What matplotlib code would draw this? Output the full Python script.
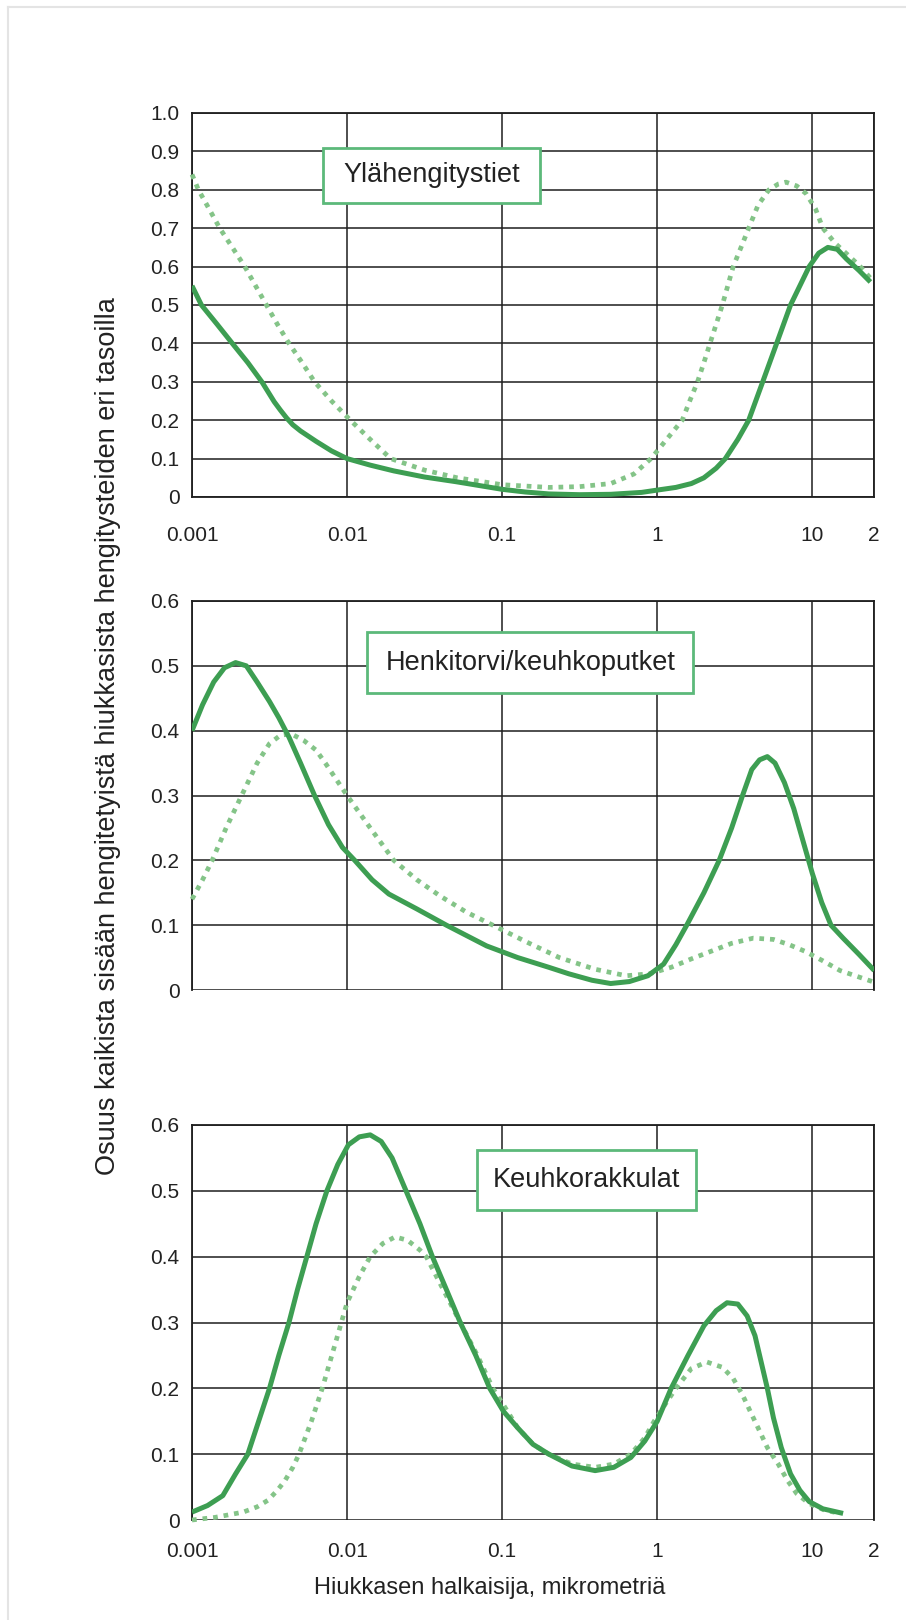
import matplotlib
matplotlib.use("Agg")
import matplotlib.pyplot as plt
from matplotlib.patches import Rectangle
from matplotlib.lines import Line2D

# ---------------- data (particle diameter in micrometres, deposited fraction) ----------------
x_labels = ["0.001", "0.01", "0.1", "1", "10", "2"]
x_ticks = [0.001, 0.01, 0.1, 1, 10, 25]

titles = ["Ylähengitystiet", "Henkitorvi/keuhkoputket", "Keuhkorakkulat"]

# Panel 1: upper airways
p1_solid_x = [0.001, 0.00115, 0.00145, 0.00182, 0.00229, 0.00282, 0.00339, 0.00372, 0.00407,
              0.00447, 0.00501, 0.00631, 0.00794, 0.01, 0.0141, 0.02, 0.0316, 0.0501, 0.0708,
              0.1, 0.141, 0.2, 0.316, 0.501, 0.794, 1.0, 1.32, 1.66, 2.0, 2.4, 2.75, 3.31,
              3.89, 4.79, 5.89, 7.24, 9.55, 11.0, 12.6, 14.5, 16.6, 20.0, 23.7]
p1_solid_y = [0.55, 0.50, 0.45, 0.40, 0.35, 0.30, 0.248, 0.226, 0.206,
              0.188, 0.172, 0.145, 0.12, 0.10, 0.083, 0.068, 0.052, 0.04, 0.03,
              0.02, 0.013, 0.008, 0.006, 0.007, 0.012, 0.018, 0.025, 0.035, 0.05, 0.075, 0.10, 0.15,
              0.20, 0.30, 0.40, 0.50, 0.60, 0.635, 0.65, 0.645, 0.62, 0.59, 0.56]
p1_dot_x = [0.001, 0.0011, 0.00129, 0.00151, 0.00182, 0.00219, 0.00257, 0.00302, 0.00355,
            0.00422, 0.00513, 0.00617, 0.00794, 0.0105, 0.0141, 0.0191, 0.0316, 0.0513, 0.1,
            0.2, 0.316, 0.501, 0.708, 0.912, 1.15, 1.45, 1.62, 1.82, 2.0, 2.19, 2.4, 2.63,
            2.85, 3.09, 3.47, 3.89, 4.47, 5.25, 6.03, 6.76, 7.94, 9.12, 10.5, 11.7, 14.1,
            17.0, 20.4, 23.7]
p1_dot_y = [0.84, 0.80, 0.75, 0.70, 0.65, 0.60, 0.55, 0.50, 0.45,
            0.40, 0.35, 0.30, 0.25, 0.20, 0.15, 0.10, 0.07, 0.05, 0.032,
            0.025, 0.027, 0.035, 0.06, 0.10, 0.15, 0.20, 0.25, 0.30, 0.35, 0.40, 0.45, 0.50,
            0.55, 0.60, 0.65, 0.70, 0.76, 0.80, 0.815, 0.82, 0.81, 0.79, 0.75, 0.70, 0.66,
            0.63, 0.60, 0.57]

# Panel 2: trachea / bronchi
p2_solid_x = [0.001, 0.00117, 0.00138, 0.00162, 0.00191, 0.00224, 0.00263, 0.00316, 0.00363,
              0.00422, 0.00501, 0.00617, 0.00759, 0.00933, 0.0112, 0.0145, 0.0186, 0.0282,
              0.0437, 0.0794, 0.126, 0.2, 0.269, 0.38, 0.501, 0.661, 0.871, 1.10, 1.32, 1.55,
              2.0, 2.51, 3.02, 3.55, 4.07, 4.57, 5.13, 5.75, 6.61, 7.59, 8.71, 10, 11.5, 13.2,
              15.8, 20.0, 25.1]
p2_solid_y = [0.40, 0.44, 0.475, 0.497, 0.505, 0.50, 0.475, 0.445, 0.42,
              0.39, 0.35, 0.30, 0.255, 0.22, 0.20, 0.17, 0.148, 0.125,
              0.10, 0.068, 0.05, 0.035, 0.025, 0.015, 0.01, 0.013, 0.022, 0.04, 0.07, 0.10,
              0.15, 0.20, 0.25, 0.30, 0.34, 0.355, 0.36, 0.35, 0.32, 0.28, 0.23, 0.18, 0.135, 0.10,
              0.08, 0.055, 0.03]
p2_dot_x = [0.001, 0.00117, 0.00135, 0.00166, 0.00209, 0.00263, 0.00316, 0.00372, 0.00437,
            0.00525, 0.00631, 0.00724, 0.00851, 0.01, 0.0141, 0.02, 0.0282, 0.0398, 0.0589,
            0.0871, 0.141, 0.234, 0.398, 0.631, 0.891, 1.23, 1.66, 2.24, 3.02, 4.17, 5.62,
            7.08, 8.91, 11.7, 15.1, 20.0, 25.1]
p2_dot_y = [0.14, 0.17, 0.20, 0.25, 0.30, 0.35, 0.38, 0.393, 0.395,
            0.385, 0.37, 0.35, 0.325, 0.30, 0.25, 0.20, 0.17, 0.145, 0.12,
            0.10, 0.075, 0.05, 0.032, 0.022, 0.025, 0.035, 0.048, 0.06, 0.072, 0.08, 0.078,
            0.07, 0.06, 0.045, 0.03, 0.02, 0.012]

# Panel 3: alveoli
p3_solid_x = [0.001, 0.00126, 0.00158, 0.00191, 0.00229, 0.00269, 0.00316, 0.00363, 0.00422,
              0.00479, 0.0055, 0.00631, 0.00741, 0.00871, 0.0102, 0.012, 0.0141, 0.0166,
              0.0195, 0.024, 0.0295, 0.0355, 0.0437, 0.0537, 0.0676, 0.0832, 0.102, 0.126,
              0.158, 0.2, 0.282, 0.398, 0.525, 0.676, 0.832, 1.0, 1.23, 1.58, 2.0, 2.4, 2.82,
              3.31, 3.8, 4.27, 4.68, 5.13, 5.62, 6.31, 7.24, 8.32, 9.55, 11.7, 15.8]
p3_solid_y = [0.012, 0.022, 0.037, 0.07, 0.10, 0.15, 0.20, 0.25, 0.30,
              0.35, 0.40, 0.45, 0.50, 0.54, 0.57, 0.582, 0.585, 0.575,
              0.55, 0.50, 0.45, 0.40, 0.35, 0.30, 0.25, 0.20, 0.165, 0.14,
              0.115, 0.10, 0.082, 0.075, 0.08, 0.095, 0.12, 0.15, 0.20, 0.25, 0.295, 0.318, 0.33,
              0.328, 0.31, 0.28, 0.24, 0.20, 0.155, 0.11, 0.07, 0.045, 0.028, 0.017, 0.01]
p3_dot_x = [0.001, 0.00141, 0.00214, 0.00263, 0.00309, 0.00355, 0.00398, 0.00447, 0.0049,
            0.00589, 0.00692, 0.00832, 0.01, 0.012, 0.0141, 0.017, 0.0204, 0.0245, 0.0295,
            0.0324, 0.0417, 0.0537, 0.0692, 0.0871, 0.105, 0.126, 0.158, 0.2, 0.282, 0.398,
            0.525, 0.676, 0.832, 0.955, 1.12, 1.32, 1.66, 2.09, 2.63, 3.09, 3.55, 3.98, 4.47,
            5.13, 6.03, 6.92, 7.94, 9.55, 12.0, 15.1]
p3_dot_y = [0.0, 0.004, 0.012, 0.02, 0.03, 0.045, 0.06, 0.08, 0.10,
            0.15, 0.20, 0.265, 0.33, 0.37, 0.40, 0.42, 0.43, 0.425, 0.41,
            0.40, 0.35, 0.30, 0.25, 0.20, 0.17, 0.14, 0.115, 0.10, 0.085, 0.08,
            0.085, 0.10, 0.125, 0.15, 0.175, 0.20, 0.23, 0.24, 0.232, 0.215, 0.19, 0.165, 0.14,
            0.11, 0.085, 0.06, 0.04, 0.025, 0.015, 0.01]

ylabel_text = "Osuus kaikista sisään hengitetyistä hiukkasista hengitysteiden eri tasoilla"
xlabel_text = "Hiukkasen halkaisija, mikrometriä"

# ---------------- style ----------------
SOLID = "#3d9e52"
DOT = "#84c488"
BOXEDGE = "#5cb97a"
GRID = "#1e1e1e"
TICKFONT = ["Liberation Sans", "DejaVu Sans"]
TEXTFONT = ["Liberation Sans", "DejaVu Sans"]

W, H = 906, 1620
fig = plt.figure(figsize=(W / 100, H / 100), dpi=100)
fig.patch.set_facecolor("white")

def fx(px):
    return px / W

def fy(py):
    return 1 - py / H

left, right = 192, 874
panels = [
    dict(top=113, bottom=497, ymax=1.0, yt=[i / 10 for i in range(11)],
         sx=p1_solid_x, sy=p1_solid_y, dx=p1_dot_x, dy=p1_dot_y,
         box=(0.192, 0.766, 0.510, 0.909), xt=True, xpad=21, bottom_spine=True),
    dict(top=601, bottom=990, ymax=0.6, yt=[i / 10 for i in range(7)],
         sx=p2_solid_x, sy=p2_solid_y, dx=p2_dot_x, dy=p2_dot_y,
         box=(0.257, 0.763, 0.735, 0.920), xt=False, xpad=16, bottom_spine=False),
    dict(top=1125, bottom=1520, ymax=0.6, yt=[i / 10 for i in range(7)],
         sx=p3_solid_x, sy=p3_solid_y, dx=p3_dot_x, dy=p3_dot_y,
         box=(0.418, 0.785, 0.739, 0.9375), xt=True, xpad=16, bottom_spine=False),
]

for i, p in enumerate(panels):
    ax = fig.add_axes([fx(left), fy(p["bottom"]), fx(right - left),
                       (p["bottom"] - p["top"]) / H])
    ax.set_xscale("log")
    ax.set_xlim(0.001, 25)
    ax.set_ylim(0, p["ymax"])
    ax.set_xticks(x_ticks)
    ax.minorticks_off()
    ax.set_yticks(p["yt"])
    ax.set_yticklabels(["0" if v == 0 else f"{v:.1f}" for v in p["yt"]])
    if p["xt"]:
        ax.set_xticklabels(x_labels)
    else:
        ax.set_xticklabels([])
    ax.tick_params(axis="both", length=0, labelsize=15, colors="#222222")
    ax.tick_params(axis="y", pad=9)
    ax.tick_params(axis="x", pad=p["xpad"])
    for lab in ax.get_xticklabels() + ax.get_yticklabels():
        lab.set_family(TICKFONT)
    ax.grid(True, which="major", color=GRID, lw=1.1)
    for s in ["left", "right", "top", "bottom"]:
        ax.spines[s].set_color(GRID)
        ax.spines[s].set_linewidth(1.3)
    ax.spines["bottom"].set_visible(p["bottom_spine"])
    ax.set_axisbelow(True)

    ax.plot(p["dx"], p["dy"], color=DOT, lw=3.4, linestyle=(0, (1.0, 1.25)),
            dash_capstyle="butt", clip_on=False, zorder=3)
    ax.plot(p["sx"], p["sy"], color=SOLID, lw=3.6, solid_joinstyle="round",
            solid_capstyle="butt", zorder=4)

    x0, y0, x1, y1 = p["box"]
    ax.add_patch(Rectangle((x0, y0), x1 - x0, y1 - y0, transform=ax.transAxes,
                           facecolor="white", edgecolor=BOXEDGE, lw=2.0, zorder=5))
    ax.text((x0 + x1) / 2, (y0 + y1) / 2, titles[i], transform=ax.transAxes,
            ha="center", va="center", fontsize=19.5, family=TEXTFONT,
            color="#222222", zorder=6)

fig.text(fx(108), fy(736), ylabel_text, rotation=90, ha="center", va="center",
         fontsize=19.5, family=TEXTFONT, color="#222222")
fig.text(fx(490), fy(1588), xlabel_text, ha="center", va="center",
         fontsize=17, family=TEXTFONT, color="#222222")

# faint frame of the scanned page
fig.add_artist(Line2D([fx(8), fx(8)], [fy(7), 0], color="#e4e4e4", lw=1.5))
fig.add_artist(Line2D([fx(8), 1], [fy(7), fy(7)], color="#e4e4e4", lw=1.5))

fig.savefig("out.png", dpi=100, facecolor="white")
